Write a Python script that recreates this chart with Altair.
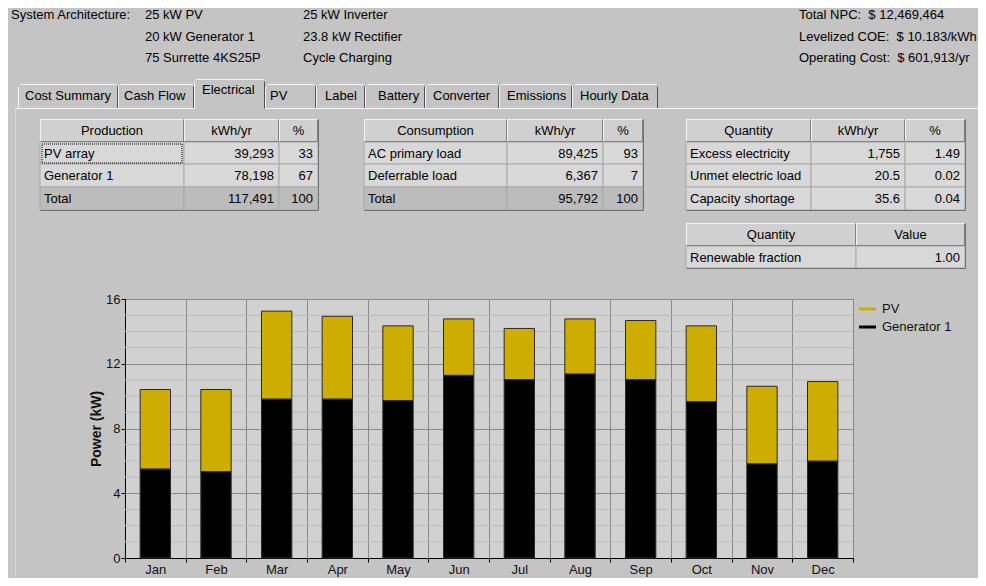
import altair as alt
import pandas as pd

# ---------------- data ----------------
months = ["Jan", "Feb", "Mar", "Apr", "May", "Jun", "Jul", "Aug", "Sep", "Oct", "Nov", "Dec"]
generator_kw = [5.49, 5.33, 9.81, 9.81, 9.71, 11.28, 11.02, 11.36, 11.02, 9.65, 5.81, 5.98]
pv_kw = [4.92, 5.08, 5.44, 5.12, 4.63, 3.49, 3.16, 3.41, 3.65, 4.69, 4.80, 4.92]
series = ["PV", "Generator 1"]
series_colors = ["#cdad00", "#000000"]
y_ticks = [0, 4, 8, 12, 16]

chart_title = "Monthly Average Electric Production"
y_title = "Power (kW)"

arch_label = "System Architecture:"
arch_col1 = ["25 kW PV", "20 kW Generator 1", "75 Surrette 4KS25P"]
arch_col2 = ["25 kW Inverter", "23.8 kW Rectifier", "Cycle Charging"]
summary_lines = ["Total NPC:\u00a0 $\u00a012,469,464", "Levelized COE:\u00a0 $\u00a010.183/kWh",
                 "Operating Cost:\u00a0 $\u00a0601,913/yr"]
tab_names = ["Cost Summary", "Cash Flow", "Electrical", "PV", "Label", "Battery", "Converter", "Emissions", "Hourly Data"]
selected_tab = "Electrical"

production_header = ["Production", "kWh/yr", "%"]
production_rows = [["PV array", "39,293", "33"], ["Generator 1", "78,198", "67"], ["Total", "117,491", "100"]]
consumption_header = ["Consumption", "kWh/yr", "%"]
consumption_rows = [["AC primary load", "89,425", "93"], ["Deferrable load", "6,367", "7"], ["Total", "95,792", "100"]]
quantity_header = ["Quantity", "kWh/yr", "%"]
quantity_rows = [["Excess electricity", "1,755", "1.49"], ["Unmet electric load", "20.5", "0.02"], ["Capacity shortage", "35.6", "0.04"]]
renewable_header = ["Quantity", "Value"]
renewable_rows = [["Renewable fraction", "1.00"]]

# ---------------- layout (page pixels) ----------------
OX, OY = 125, 299          # plot origin on the page
PW, PH = 728, 259          # plot size
BG = "#c4c4c4"
FONT = "Liberation Sans"
WHITE = "#f4f4f4"
DARK = "#505050"

rects, lines, texts = [], [], []


def R(x0, y0, x1, y1, fill, stroke="transparent"):
    rects.append(dict(x=x0 - OX, x2=x1 - OX, y=y0 - OY, y2=y1 - OY, fill=fill, stroke=stroke))


def L(x0, y0, x1, y1, color):
    lines.append(dict(x=x0 - OX + 0.5, x2=x1 - OX + 0.5, y=y0 - OY + 0.5, y2=y1 - OY + 0.5, stroke=color))


def T(x, y, text, align="left"):
    texts.append(dict(x=x - OX, y=y - OY, text=text, align=align))


# header block
T(11, 15, arch_label)
for i, (a, b) in enumerate(zip(arch_col1, arch_col2)):
    yy = [15, 36.5, 58][i]
    T(145, yy, a)
    T(303, yy, b)
for i, s in enumerate(summary_lines):
    T(799, [15, 36.5, 58][i], s)

# tabs
tab_edges = [18, 118, 194, 265, 316, 365, 425, 499, 572, 658]
tab_text_x = [25, 124, 202, 270, 325, 378, 433, 507, 580]
for i, name in enumerate(tab_names):
    x0, x1 = tab_edges[i], tab_edges[i + 1]
    sel = name == selected_tab
    top = 79 if sel else 84
    L(x0, top + 2, x0, 108, WHITE)
    L(x0 + 2, top, x1 - 2, top, WHITE)
    L(x1 - 1, top + 2, x1 - 1, 108, DARK)
    T(tab_text_x[i], 90 if sel else 96, name)
# panel border
sel_i = tab_names.index(selected_tab)
L(14, 108, tab_edges[sel_i], 108, WHITE)
L(tab_edges[sel_i + 1], 108, 986, 108, WHITE)
L(15, 108, 15, 586, "#d6d6d6")


def table(cols, rows_y, header, body, has_total=True):
    y0, y1 = rows_y[0], rows_y[1]
    for j, h in enumerate(header):
        x0, x1 = cols[j], cols[j + 1]
        R(x0, y0, x1, y1, "#d0d0d0")
        L(x0, y0, x1 - 1, y0, WHITE)
        L(x0, y0, x0, y1 - 1, WHITE)
        L(x0, y1 - 1, x1 - 1, y1 - 1, "#808080")
        L(x1 - 1, y0, x1 - 1, y1 - 1, "#808080")
        T((x0 + x1) / 2, (y0 + y1) / 2 + 0.5, h, "center")
    for i, row in enumerate(body):
        r0, r1 = rows_y[i + 1], rows_y[i + 2]
        total = has_total and i == len(body) - 1
        fill = "#bcbcbc" if total else "#d8d8d8"
        for j, val in enumerate(row):
            x0, x1 = cols[j], cols[j + 1]
            R(x0, r0, x1, r1, fill, "#a8a8a8")
            if j == 0:
                T(x0 + 4, (r0 + r1) / 2 + 0.5, val, "left")
            else:
                T(x1 - 5, (r0 + r1) / 2 + 0.5, val, "right")
    L(cols[0], rows_y[-1], cols[-1], rows_y[-1], "#707070")
    L(cols[-1], rows_y[0], cols[-1], rows_y[-1], "#707070")


rows_main = [119, 142, 164, 187, 210]
table([40, 184, 279, 318], rows_main, production_header, production_rows)
table([364, 507, 603, 643], rows_main, consumption_header, consumption_rows)
table([686, 811, 905, 965], rows_main, quantity_header, quantity_rows, has_total=False)
table([686, 856, 965], [223, 246, 268], renewable_header, renewable_rows, has_total=False)

rect_df = pd.DataFrame(rects)
line_df = pd.DataFrame(lines)
text_df = pd.DataFrame(texts)
focus_df = pd.DataFrame([dict(x=42 - OX, x2=182 - OX, y=144 - OY, y2=163 - OY)])

legend_rows = [309, 327]
legend_df = pd.DataFrame({
    "source": series,
    "x": [859 - OX] * 2,
    "x2": [876 - OX] * 2,
    "y": [v - OY for v in legend_rows],
    "tx": [882 - OX] * 2,
})

# ---------------- chart data ----------------
bars_df = pd.DataFrame({
    "month": months * 2,
    "source": [series[0]] * 12 + [series[1]] * 12,
    "kw": pv_kw + generator_kw,
})
bars_df["stack_rank"] = bars_df["source"].map({series[1]: 0, series[0]: 1})
minor_df = pd.DataFrame({"v": [v for v in range(0, 17) if v % 4 != 0]})

yscale = alt.Scale(domain=[0, 16], nice=False)
color_scale = alt.Scale(domain=series, range=series_colors)

PX = lambda f: alt.X(f, scale=None, axis=None)
PY = lambda f: alt.Y(f, scale=None, axis=None)

ui_rects = alt.Chart(rect_df).mark_rect(strokeWidth=1).encode(
    x=PX("x:Q"), x2="x2:Q", y=PY("y:Q"), y2="y2:Q",
    fill=alt.Fill("fill:N", scale=None), stroke=alt.Stroke("stroke:N", scale=None),
)
ui_lines = alt.Chart(line_df).mark_rule(strokeWidth=1).encode(
    x=PX("x:Q"), x2="x2:Q", y=PY("y:Q"), y2="y2:Q",
    stroke=alt.Stroke("stroke:N", scale=None),
)
focus = alt.Chart(focus_df).mark_rect(fill="transparent", stroke="#000000", strokeDash=[1, 1], strokeWidth=1).encode(
    x=PX("x:Q"), x2="x2:Q", y=PY("y:Q"), y2="y2:Q"
)


def text_layer(align):
    return alt.Chart(text_df).transform_filter(alt.datum.align == align).mark_text(
        align=align, baseline="middle", font=FONT, fontSize=13, color="#000000"
    ).encode(x=PX("x:Q"), y=PY("y:Q"), text="text:N")


minor = alt.Chart(minor_df).mark_rule(color="#bcbcbc", strokeWidth=1).encode(
    y=alt.Y("v:Q", scale=yscale)
)

bars = alt.Chart(bars_df).mark_bar(
    width=alt.RelativeBandSize(0.5), stroke="#2a2a2a", strokeWidth=1
).encode(
    x=alt.X("month:N", sort=months, scale=alt.Scale(paddingInner=0, paddingOuter=0),
            axis=alt.Axis(title=None, labelAngle=0, tickBand="extent", grid=True,
                          gridColor="#8a8a8a", tickColor="#000000", tickSize=4,
                          domainColor="#000000", labelPadding=1, labelFontSize=13,
                          labelColor="#111111", labelFont=FONT)),
    y=alt.Y("kw:Q", stack="zero", scale=yscale,
            axis=alt.Axis(values=y_ticks, title=y_title, grid=True, gridColor="#8a8a8a",
                          tickColor="#000000", tickSize=4, domainColor="#000000",
                          labelPadding=1, labelFontSize=13, labelColor="#111111",
                          labelFont=FONT, titleFont=FONT, titleFontSize=14,
                          titleFontWeight="bold", titleColor="#111111", titlePadding=2)),
    color=alt.Color("source:N", scale=color_scale, legend=None),
    order=alt.Order("stack_rank:Q"),
)

legend_lines = alt.Chart(legend_df).mark_rule(strokeWidth=3).encode(
    x=PX("x:Q"), x2="x2:Q", y=PY("y:Q"),
    color=alt.Color("source:N", scale=color_scale, legend=None),
)
legend_text = alt.Chart(legend_df).mark_text(
    align="left", baseline="middle", font=FONT, fontSize=13, color="#111111"
).encode(x=PX("tx:Q"), y=PY("y:Q"), text="source:N")

chart = alt.layer(
    ui_rects, ui_lines, focus,
    text_layer("left"), text_layer("center"), text_layer("right"),
    minor, bars, legend_lines, legend_text,
).properties(
    width=PW, height=PH,
    title=alt.TitleParams(chart_title, font=FONT, fontSize=14, fontWeight="bold",
                          color="#101828", offset=2, anchor="middle"),
    autosize=alt.AutoSizeParams(type="none"),
    padding={"left": OX - 8, "top": OY - 8, "right": 970 - (OX - 8) - PW, "bottom": 570 - (OY - 8) - PH},
).configure(
    background=BG, font=FONT,
).configure_view(
    fill="#d1d1d1", stroke="#1e1e1e", strokeWidth=1,
)

chart.save("out.html", embed_options={"renderer": "svg", "actions": False})
